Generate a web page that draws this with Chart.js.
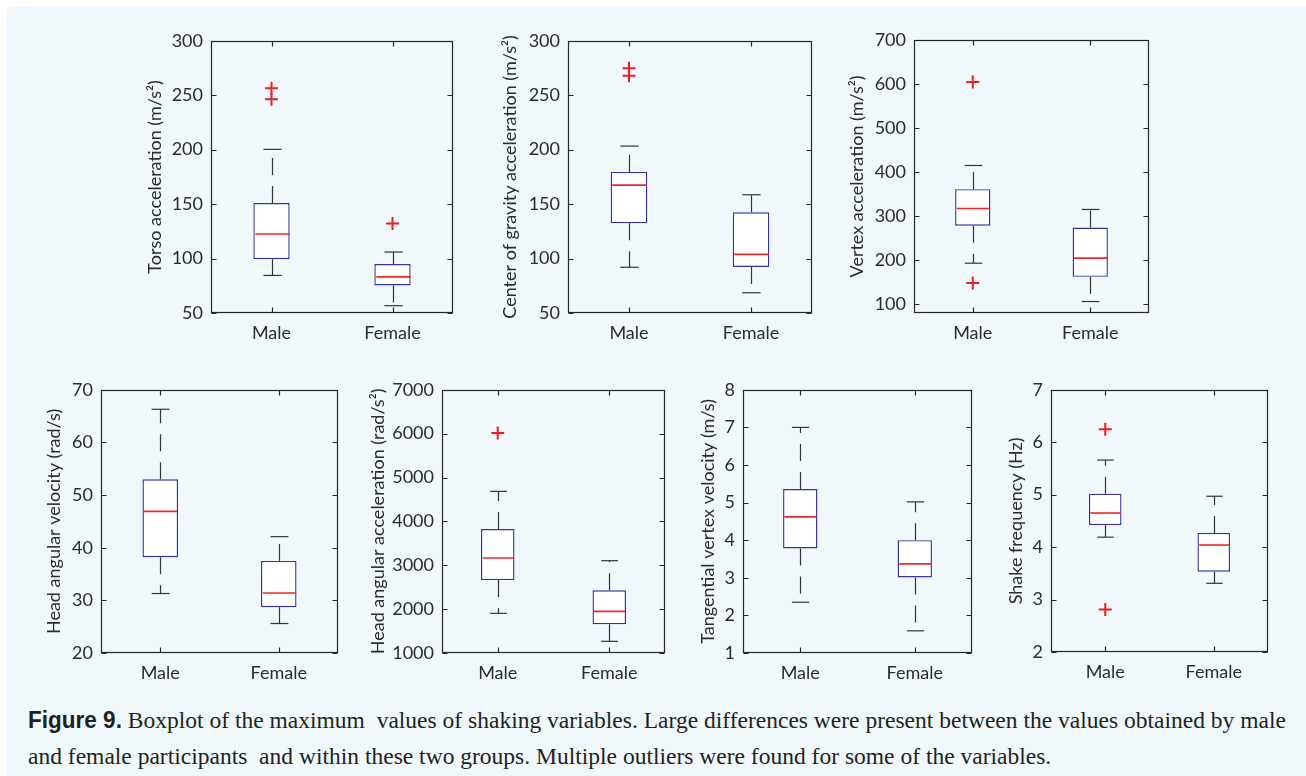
<!DOCTYPE html>
<html>
<head>
<meta charset="utf-8">
<script src="https://cdn.jsdelivr.net/npm/chart.js@4.4.1/dist/chart.umd.min.js"></script>
<style>
  html, body { margin: 0; padding: 0; background: #fff; }
  body { width: 1306px; height: 776px; position: relative; overflow: hidden; }
  #page { position: absolute; left: 7px; top: 7px; right: 0; bottom: 0; background: #f0f8fc; }
  canvas.panel { position: absolute; }
  .cap { position: absolute; left: 28px; font: 24px/36px "Liberation Serif", "Times New Roman", serif; color: #231f20;
         white-space: nowrap; transform-origin: 0 0; }
  .cap b { font-family: "Liberation Sans Narrow", "Liberation Sans", Arial, sans-serif; font-weight: bold; font-size: 23px; }
</style>
</head>
<body>
<div id="page"></div>
<div class="cap" id="cap1" style="top:702px"><b>Figure 9.</b> Boxplot of the maximum&nbsp; values of shaking variables. Large differences were present between the values obtained by male</div>
<div class="cap" id="cap2" style="top:738px">and female participants&nbsp; and within these two groups. Multiple outliers were found for some of the variables.</div>
<script>
const categories = ["Male", "Female"];

// [lower whisker, Q1, median, Q3, upper whisker] for Male, Female
const torsoBox = [[84.5, 99.4, 122.6, 151, 200.3], [56.7, 75.3, 83.2, 95, 106]];
const torsoOutliers = [[256.4, 246.3], [132.3]];
const torsoTicks = [50, 100, 150, 200, 250, 300];

const cogBox = [[92, 132.4, 167.4, 179.6, 203.3], [68.6, 92.3, 103.8, 142.5, 158.6]];
const cogOutliers = [[274.8, 267.8], []];
const cogTicks = [50, 100, 150, 200, 250, 300];

const vertexBox = [[193, 278, 317.2, 361, 414.8], [106, 162, 204.5, 274, 315]];
const vertexOutliers = [[604, 148], []];
const vertexTicks = [100, 200, 300, 400, 500, 600, 700];

const headVelBox = [[31.3, 38.2, 46.9, 53, 66.3], [25.6, 28.7, 31.4, 37.5, 42.1]];
const headVelOutliers = [[], []];
const headVelTicks = [20, 30, 40, 50, 60, 70];

const headAccBox = [[1904, 2663, 3165, 3825, 4684], [1266, 1653, 1949, 2428, 3104]];
const headAccOutliers = [[6013], []];
const headAccTicks = [1000, 2000, 3000, 4000, 5000, 6000, 7000];

const tangVelBox = [[2.35, 3.78, 4.62, 5.36, 7.0], [1.59, 3.01, 3.37, 4.0, 5.02]];
const tangVelOutliers = [[], []];
const tangVelTicks = [1, 2, 3, 4, 5, 6, 7, 8];

const shakeBox = [[4.19, 4.42, 4.65, 5.02, 5.66], [3.31, 3.53, 4.04, 4.27, 4.97]];
const shakeOutliers = [[6.25, 2.81], []];
const shakeTicks = [2, 3, 4, 5, 6, 7];

// plot rectangles (l, t, r, b) and distance of the y title centre from the plot's left edge
const panels = [
  { title: "Torso acceleration (m/s²)", box: torsoBox, out: torsoOutliers, ticks: torsoTicks, min: 50, max: 300, rect: [211, 41, 453, 313], tOff: 56 },
  { title: "Center of gravity acceleration (m/s²)", box: cogBox, out: cogOutliers, ticks: cogTicks, min: 50, max: 300, rect: [568, 41, 812, 313], tOff: 58 },
  { title: "Vertex acceleration (m/s²)", box: vertexBox, out: vertexOutliers, ticks: vertexTicks, min: 80, max: 700, rect: [914, 40, 1149, 313], tOff: 57 },
  { title: "Head angular velocity (rad/s)", box: headVelBox, out: headVelOutliers, ticks: headVelTicks, min: 20, max: 70, rect: [101, 390, 338, 653], tOff: 47 },
  { title: "Head angular acceleration (rad/s²)", box: headAccBox, out: headAccOutliers, ticks: headAccTicks, min: 1000, max: 7000, rect: [442, 390, 665, 653], tOff: 64 },
  { title: "Tangential vertex velocity (m/s)", box: tangVelBox, out: tangVelOutliers, ticks: tangVelTicks, min: 1, max: 8, rect: [743, 390, 972, 653], tOff: 35 },
  { title: "Shake frequency (Hz)", box: shakeBox, out: shakeOutliers, ticks: shakeTicks, min: 2, max: 7, rect: [1051, 390, 1268, 652], tOff: 35 }
];

const FONT = "Lato, 'Open Sans', sans-serif";
const TEXT = "#2b2b2b";
const TITLE_SIZE = 18;
const PAD_TOP = 4, PAD_RIGHT = 12, X_H = 44;

// whiskers, caps, medians, frame and inward ticks
const boxPlotPlugin = {
  id: "boxplot",
  afterDatasetsDraw(chart, args, opts) {
    const { ctx, scales: { x, y } } = chart;
    const meta = chart.getDatasetMeta(0);
    const seg = (x1, y1, x2, y2) => { ctx.beginPath(); ctx.moveTo(x1, y1); ctx.lineTo(x2, y2); ctx.stroke(); };
    ctx.save();
    opts.boxes.forEach((b, i) => {
      const cx = Math.round(x.getPixelForValue(i)) + 0.5;
      const half = meta.data[i].width / 2;
      ctx.strokeStyle = "#333";
      ctx.lineWidth = 1.2;
      ctx.setLineDash([17, 11]);
      seg(cx, y.getPixelForValue(b[3]), cx, y.getPixelForValue(b[4]));
      seg(cx, y.getPixelForValue(b[1]), cx, y.getPixelForValue(b[0]));
      ctx.setLineDash([]);
      [b[0], b[4]].forEach(v => {
        const py = y.getPixelForValue(v);
        seg(cx - half / 2, py, cx + half / 2, py);
      });
      ctx.strokeStyle = "#f0262b";
      ctx.lineWidth = 1.6;
      const my = y.getPixelForValue(b[2]);
      seg(cx - half + 1, my, cx + half - 1, my);
    });
    ctx.restore();
  },
  afterDraw(chart) {
    const { ctx, chartArea: a, scales: { x, y } } = chart;
    const L = Math.round(a.left) + 0.5, R = Math.round(a.right) - 0.5;
    const T = Math.round(a.top) + 0.5, B = Math.round(a.bottom) - 0.5;
    ctx.save();
    ctx.strokeStyle = "#262626";
    ctx.lineWidth = 1.2;
    ctx.strokeRect(L, T, R - L, B - T);
    ctx.beginPath();
    y.ticks.forEach(t => {
      const py = Math.round(y.getPixelForValue(t.value)) + 0.5;
      ctx.moveTo(L, py); ctx.lineTo(L + 5, py);
      ctx.moveTo(R, py); ctx.lineTo(R - 5, py);
    });
    categories.forEach((c, i) => {
      const px = Math.round(x.getPixelForValue(i)) + 0.5;
      ctx.moveTo(px, B); ctx.lineTo(px, B - 5);
      ctx.moveTo(px, T); ctx.lineTo(px, T + 5);
    });
    ctx.stroke();
    ctx.restore();
  }
};

panels.forEach(p => {
  const [l, t, r, b] = p.rect;
  const yw = Math.round(p.tOff + TITLE_SIZE * 1.2 / 2);
  const canvas = document.createElement("canvas");
  canvas.className = "panel";
  const w = (r - l) + yw + PAD_RIGHT;
  canvas.width = w;
  canvas.height = 40 + (b - t) + X_H;
  canvas.style.left = (l - yw) + "px";
  document.body.appendChild(canvas);

  const outlierPoints = [];
  p.out.forEach((vals, i) => vals.forEach(v => outlierPoints.push({ x: categories[i], y: v })));

  const chart = new Chart(canvas, {
    type: "bar",
    data: {
      labels: categories,
      datasets: [
        {
          data: p.box.map(s => [s[1], s[3]]),
          backgroundColor: "#ffffff",
          borderColor: "#34349c",
          borderWidth: 1.4,
          borderSkipped: false,
          barPercentage: 0.3,
          categoryPercentage: 1
        },
        {
          type: "scatter",
          data: outlierPoints,
          pointStyle: "cross",
          pointRadius: 6.5,
          borderColor: "#ee1c24",
          borderWidth: 2
        }
      ]
    },
    options: {
      responsive: false,
      maintainAspectRatio: false,
      animation: false,
      layout: { padding: { top: PAD_TOP, right: PAD_RIGHT, left: 0, bottom: 0 } },
      plugins: {
        legend: { display: false },
        tooltip: { enabled: false },
        boxplot: { boxes: p.box }
      },
      scales: {
        x: {
          type: "category",
          offset: true,
          grid: { display: false, drawTicks: false },
          border: { display: false },
          ticks: { font: { family: FONT, size: 18 }, color: TEXT, padding: 9 },
          afterFit: s => { s.height = X_H; }
        },
        y: {
          min: p.min,
          max: p.max,
          afterBuildTicks: s => { s.ticks = p.ticks.map(v => ({ value: v })); },
          grid: { display: false, drawTicks: false },
          border: { display: false },
          ticks: { font: { family: FONT, size: 18 }, color: TEXT, padding: 8, callback: v => String(v) },
          title: { display: true, text: p.title, font: { family: FONT, size: TITLE_SIZE }, color: TEXT, padding: 0 },
          afterFit: s => { s.width = yw; }
        }
      }
    },
    plugins: [boxPlotPlugin]
  });

  // place the canvas so the plot area lands on the wanted rectangle
  const top = chart.chartArea.top;
  chart.resize(w, Math.round(top + (b - t) + X_H));
  canvas.style.top = (t - chart.chartArea.top) + "px";
});

// squeeze the caption to the narrow typeface of the figure
const cap1 = document.getElementById("cap1"), cap2 = document.getElementById("cap2");
const k = 1258 / cap1.scrollWidth;
cap1.style.transform = cap2.style.transform = "scaleX(" + k + ")";
</script>
</body>
</html>
